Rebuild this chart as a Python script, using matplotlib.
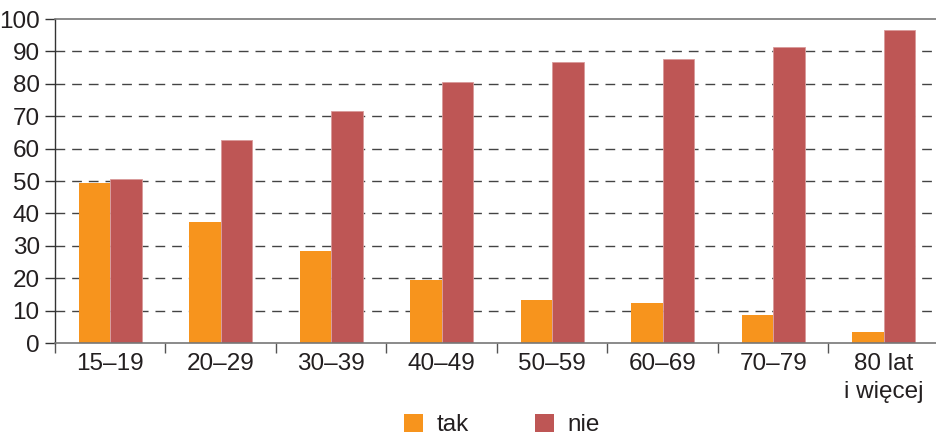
import matplotlib
matplotlib.use("Agg")
import matplotlib.pyplot as plt
import numpy as np
from matplotlib.patches import Patch

categories = ["15–19", "20–29", "30–39", "40–49", "50–59", "60–69", "70–79", "80 lat\ni więcej"]
tak = [49.3, 37.3, 28.3, 19.4, 13.4, 12.2, 8.6, 3.3]
nie = [50.7, 62.7, 71.7, 80.6, 86.6, 87.8, 91.4, 96.7]
series_names = ["tak", "nie"]
yticks = [0, 10, 20, 30, 40, 50, 60, 70, 80, 90, 100]

plt.rcParams['font.family'] = ['Liberation Sans', 'DejaVu Sans']
c_tak = "#F7941D"
c_nie = "#BE5655"
txt = "#231F20"
fs = 17.5

fig = plt.figure(figsize=(9.37, 4.36), dpi=100)
ax = fig.add_axes([55/937, (436-343)/436, 884/937, 324/436])

x = np.arange(len(categories))
w = 0.285
ax.bar(x - w/2, tak, width=w, color=c_tak, zorder=3)
ax.bar(x + w/2, nie, width=w, color=c_nie, edgecolor="#D99A9A", linewidth=0.6, zorder=3)

ax.set_xlim(-0.5, len(categories) - 0.5)
ax.set_ylim(0, 100)
ax.set_yticks(yticks)
ax.set_yticklabels([str(v) for v in yticks], fontsize=fs, color=txt)

# category boundaries as ticks
ax.set_xticks(np.arange(len(categories) + 1) - 0.5)
ax.set_xticklabels([])
ax.set_xticks(x, minor=True)
ax.set_xticklabels(categories, minor=True, fontsize=fs, color=txt, linespacing=1.35)
ax.tick_params(axis='x', which='minor', length=0, pad=7)
ax.tick_params(axis='x', which='major', length=7, color="#555555", width=1)
ax.tick_params(axis='y', length=7, width=1, color="#333333", pad=4)

for v in yticks[1:-1]:
    ax.axhline(v, color="#444444", linewidth=1.0, dashes=(7, 5), zorder=1)

ax.spines['right'].set_visible(False)
ax.spines['top'].set_color("#777777")
ax.spines['top'].set_linewidth(1.2)
ax.spines['bottom'].set_color("#777777")
ax.spines['bottom'].set_linewidth(1.2)
ax.spines['left'].set_color("#333333")
ax.spines['left'].set_linewidth(1.0)
ax.spines['bottom'].set_zorder(4)

handles = [Patch(facecolor=c_tak, label=series_names[0]),
           Patch(facecolor=c_nie, label=series_names[1])]
fig.legend(handles=handles, loc='center', bbox_to_anchor=(502/937, 1 - 425/436),
           ncol=2, frameon=False, fontsize=fs, handlelength=0.78, handleheight=0.78,
           handletextpad=0.55, columnspacing=2.75, labelcolor=txt,
           borderpad=0, borderaxespad=0)

fig.savefig("out.png", dpi=100)
